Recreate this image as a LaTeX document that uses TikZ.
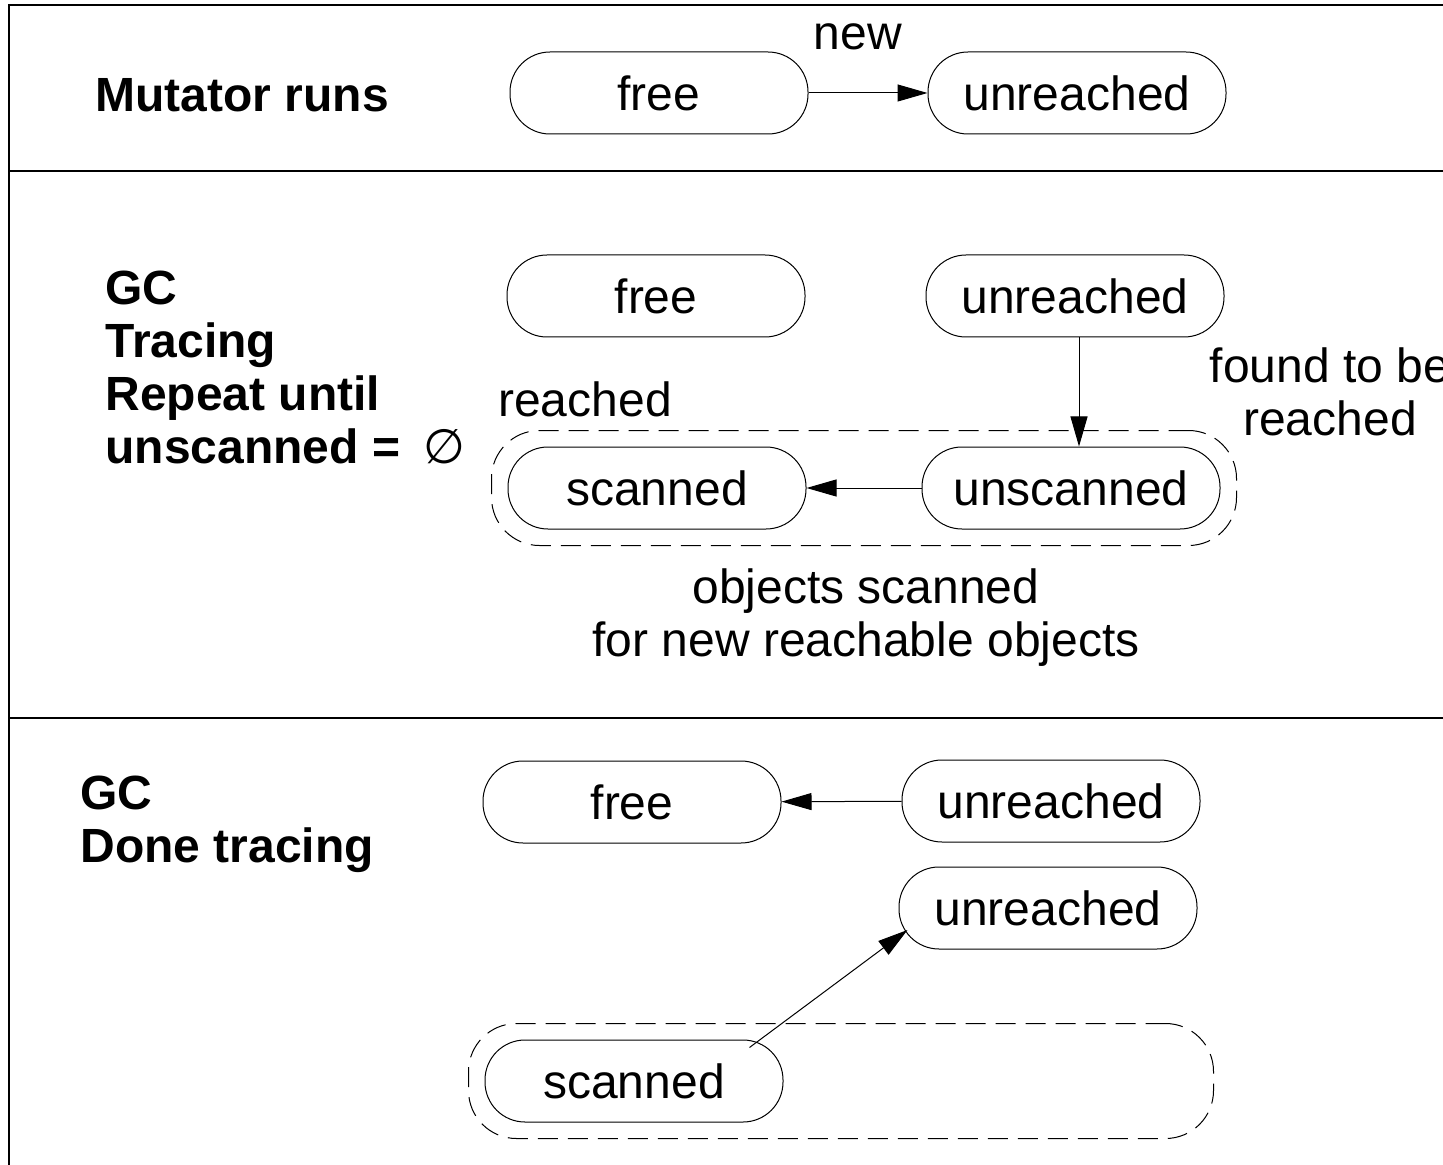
\documentclass[tikz,border=0pt]{standalone}
\usepackage{fontspec}
\setmainfont{Liberation Sans}
\newfontfamily\symfont{DejaVu Sans}
\usetikzlibrary{arrows.meta,fit}

\begin{document}
\begin{tikzpicture}[x=0.5pt,y=-0.5pt,
                    ->,>={Triangle[length=15pt,width=8.5pt]},line width=0.5pt,
                    font=\fontsize{24}{26.5}\selectfont,
                    obj node/.style={rectangle,draw,rounded corners=20pt,
                                     minimum width=149pt,minimum height=41pt,inner sep=0pt},
                    reach box/.style={rectangle,draw,dashed,dash pattern=on 10pt off 5pt,
                                      rounded corners=24pt,inner sep=8pt},
                    phase/.style={inner sep=0pt,align=left,font=\fontsize{24}{26.5}\selectfont\bfseries},
                    note/.style={inner sep=0pt,align=center}]

  \clip (0,0) rectangle (1443,1165);

  % frame
  \draw[-,line width=1pt] (1443,5) -- (9,5) -- (9,1165);
  \draw[-,line width=1pt] (9,171) -- (1443,171);
  \draw[-,line width=1pt] (9,718) -- (1443,718);

  % mutator
  \node[phase,anchor=base west] (mut) at (95,112) {Mutator runs};
  \node[obj node] (free1) at (659,93) {free};
  \node[obj node] (unr1) at (1077,93) {unreached};
  \node[note,anchor=base] (new) at (858,50) {new};
  \draw (free1) -- (unr1);

  % tracing
  \node[phase,anchor=north west] (trace) at (105,270)
    {GC\\Tracing\\Repeat until\\unscanned = \hspace{5pt}\mdseries\symfont ∅};
  \node[obj node] (free2) at (656,296) {free};
  \node[obj node] (unr2) at (1075,296) {unreached};
  \node[obj node] (scan2) at (657,488) {scanned};
  \node[obj node] (unsc) at (1071,488) {unscanned};
  \node[reach box,fit=(scan2)(unsc)] (reach2) {};
  \node[note,anchor=base] (reachlbl) at (585,416) {reached};
  \node[note,anchor=north] (found) at (1330,347) {found to be\\reached};
  \node[note,anchor=north] (objs) at (866,568) {objects scanned\\for new reachable objects};
  \draw ([xshift=2pt]unr2.south) -- ([xshift=2pt]unr2.south |- unsc.north);
  \draw (unsc) -- (scan2);

  % done
  \node[phase,anchor=north west] (done) at (80,775) {GC\\Done tracing};
  \node[obj node] (free3) at (632,802) {free};
  \node[obj node] (unr3a) at (1051,801) {unreached};
  \node[obj node] (unr3b) at (1048,908) {unreached};
  \node[obj node] (scan3) at (634,1081) {scanned};
  \coordinate (end3) at (scan3.east -| unr3b.east);
  \node[reach box,fit=(scan3)(end3)] (reach3) {};
  \draw (unr3a) -- (free3);
  \draw ([xshift=-17pt,yshift=-4pt]scan3.north east) -- ([xshift=4.5pt,yshift=-11pt]unr3b.west);
\end{tikzpicture}
\end{document}
